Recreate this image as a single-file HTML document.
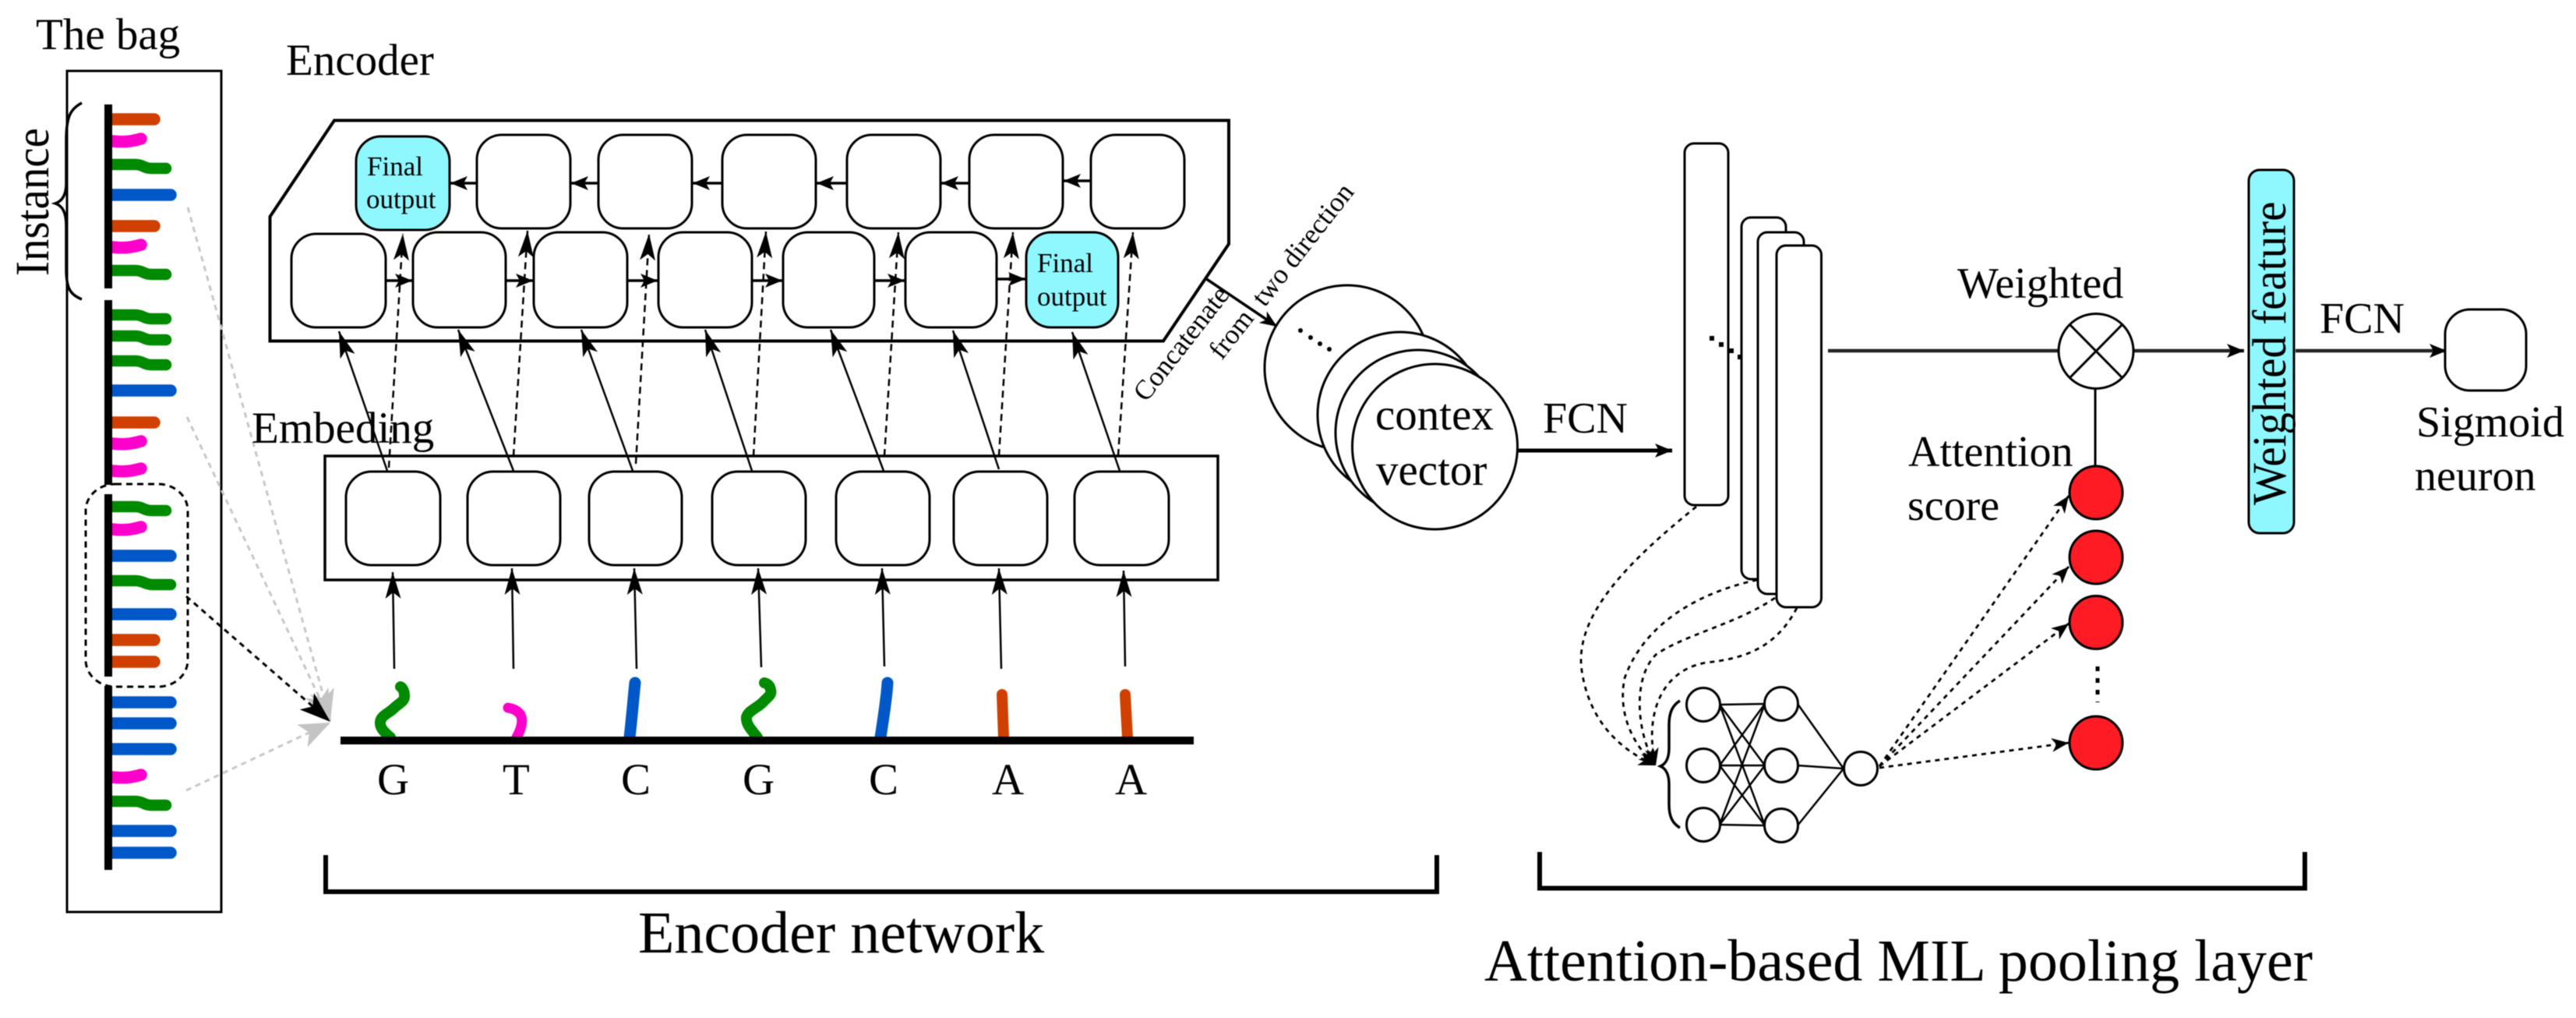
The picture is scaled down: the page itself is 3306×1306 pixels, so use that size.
<!DOCTYPE html>
<html><head><meta charset="utf-8"><style>
html,body{margin:0;padding:0;background:#fff}
svg{display:block;filter:blur(.6px)}
text{font-family:"Liberation Serif",serif;fill:#000}
</style></head><body>
<svg xmlns="http://www.w3.org/2000/svg" width="3306" height="1306" viewBox="0 0 3306 1306">
<defs>
<marker id="a" markerUnits="userSpaceOnUse" markerWidth="40" markerHeight="24" refX="34" refY="12" orient="auto"><path d="M34 12L0 2L8 12L0 22Z"/></marker>
<marker id="h" markerUnits="userSpaceOnUse" markerWidth="24" markerHeight="24" refX="22" refY="12" orient="auto"><path d="M22 12L0 3L5 12L0 21Z"/></marker>
<marker id="s" markerUnits="userSpaceOnUse" markerWidth="24" markerHeight="24" refX="22" refY="12" orient="auto"><path d="M22 12L0 3L6 12L0 21Z"/></marker>
<marker id="g" markerUnits="userSpaceOnUse" markerWidth="44" markerHeight="40" refX="40" refY="20" orient="auto"><path d="M40 20L0 4L10 20L0 36Z" fill="#c4c4c4"/></marker>
<marker id="k" markerUnits="userSpaceOnUse" markerWidth="44" markerHeight="40" refX="40" refY="20" orient="auto"><path d="M40 20L0 6L10 20L0 34Z"/></marker>
</defs>

<!-- bag -->
<rect x="86" y="91" width="198" height="1079" fill="none" stroke="#000" stroke-width="3"/>
<text x="46" y="63" font-size="57">The bag</text>
<text transform="translate(62,354) rotate(-90) scale(1,1.07)" font-size="57">Instance</text>
<path d="M105 132C90 140 85 150 85 180L85 235C85 250 80 258 71 261C80 264 85 272 85 290L85 345C85 370 90 378 105 384" fill="none" stroke="#000" stroke-width="3.5"/>

<g fill="none" stroke-linecap="round" stroke-width="15.500">
<g stroke="#d04000">
<path d="M144 153H198M144 290H198M144 542H198M144 821H198M144 849H198"/>
</g>
<g stroke="#ff00cc">
<path d="M144 181C160 183 170 181 181 178M144 317C160 319 170 317 181 314M144 569C160 571 170 569 181 566M144 604C160 606 170 604 181 601M144 679C160 681 170 679 181 676M144 997C160 999 170 997 181 994"/>
</g>
<g stroke="#008a00" stroke-width="14.500">
<path d="M144 211H174C184 211 184 216 194 216H213M144 347H174C184 347 184 352 194 352H213M144 404H174C184 404 184 409 194 409H213M144 431H174C184 431 184 436 194 436H213M144 463H174C184 463 184 468 194 468H213M144 650H174C184 650 184 655 194 655H213M144 745H174C184 745 186 750 196 750H219M144 1028H174C184 1028 184 1033 194 1033H213"/>
</g>
<g stroke="#0058c8">
<path d="M144 250H219M144 501H219M144 713H219M144 788H219M144 901H219M144 928H219M144 961H219M144 1066H219M144 1094H219"/>
</g>
</g>
<g fill="#000">
<rect x="134" y="134" width="10" height="236"/>
<rect x="134" y="385" width="10" height="237"/>
<rect x="134" y="634" width="10" height="234"/>
<rect x="134" y="880" width="10" height="236"/>
</g>
<rect x="110" y="621" width="131" height="260" rx="38" ry="34" fill="none" stroke="#000" stroke-width="3" stroke-dasharray="8 6"/>

<!-- gray + black links -->
<g fill="none" stroke-width="3" stroke-dasharray="7 6">
<line x1="241" y1="266" x2="424" y2="925" stroke="#c8c8c8" marker-end="url(#g)"/>
<line x1="240" y1="535" x2="424" y2="925" stroke="#c8c8c8" marker-end="url(#g)"/>
<line x1="239" y1="1014" x2="424" y2="927" stroke="#c8c8c8" marker-end="url(#g)"/>
<line x1="239" y1="765" x2="424" y2="926" stroke="#000" marker-end="url(#k)"/>
</g>

<!-- Encoder -->
<text x="367" y="96" font-size="57">Encoder</text>
<text x="323" y="568" font-size="57">Embeding</text>
<polygon points="429,154.500 1577,154.500 1577,313 1493,437.500 346.500,437.500 346.500,278" fill="none" stroke="#000" stroke-width="4"/>

<g fill="#fff" stroke="#000" stroke-width="3">
<rect x="457" y="175" width="120" height="120" rx="32" fill="#8ff8ff"/>
<rect x="612" y="173" width="120" height="120" rx="32"/>
<rect x="768" y="173" width="120" height="120" rx="32"/>
<rect x="927" y="173" width="120" height="120" rx="32"/>
<rect x="1087" y="173" width="120" height="120" rx="32"/>
<rect x="1244" y="173" width="120" height="120" rx="32"/>
<rect x="1400" y="173" width="120" height="120" rx="32"/>
<rect x="374" y="300" width="121" height="120" rx="32"/>
<rect x="530" y="298" width="119" height="122" rx="32"/>
<rect x="685" y="298" width="120" height="122" rx="32"/>
<rect x="845" y="298" width="120" height="122" rx="32"/>
<rect x="1005" y="298" width="117" height="122" rx="32"/>
<rect x="1162" y="298" width="117" height="122" rx="32"/>
<rect x="1317" y="298" width="118" height="122" rx="32" fill="#8ff8ff"/>
</g>
<text x="471" y="225" font-size="35">Final</text>
<text x="470" y="267" font-size="35">output</text>
<text x="1331" y="349" font-size="35">Final</text>
<text x="1331" y="392" font-size="35">output</text>

<g fill="none" stroke="#000" stroke-width="3.500">
<line x1="612" y1="235" x2="578" y2="235" marker-end="url(#h)"/>
<line x1="768" y1="235" x2="733" y2="235" marker-end="url(#h)"/>
<line x1="927" y1="235" x2="889" y2="235" marker-end="url(#h)"/>
<line x1="1087" y1="235" x2="1048" y2="235" marker-end="url(#h)"/>
<line x1="1244" y1="235" x2="1208" y2="235" marker-end="url(#h)"/>
<line x1="1400" y1="232" x2="1365" y2="232" marker-end="url(#h)"/>
<line x1="495" y1="360" x2="529" y2="360" marker-end="url(#h)"/>
<line x1="649" y1="360" x2="684" y2="360" marker-end="url(#h)"/>
<line x1="805" y1="360" x2="844" y2="360" marker-end="url(#h)"/>
<line x1="965" y1="360" x2="1004" y2="360" marker-end="url(#h)"/>
<line x1="1122" y1="360" x2="1161" y2="360" marker-end="url(#h)"/>
<line x1="1279" y1="358" x2="1316" y2="358" marker-end="url(#h)"/>
</g>

<!-- Embedding -->
<rect x="417" y="585" width="1146" height="159" fill="none" stroke="#000" stroke-width="3.500"/>
<g fill="#fff" stroke="#000" stroke-width="3">
<rect x="444" y="605" width="121" height="120" rx="33"/>
<rect x="600" y="605" width="119" height="120" rx="33"/>
<rect x="756" y="605" width="119" height="120" rx="33"/>
<rect x="914" y="605" width="120" height="120" rx="33"/>
<rect x="1073" y="605" width="120" height="120" rx="33"/>
<rect x="1224" y="605" width="120" height="120" rx="33"/>
<rect x="1379" y="605" width="121" height="120" rx="33"/>
</g>

<g fill="none" stroke="#000" stroke-width="2.500">
<line x1="497" y1="604" x2="435" y2="425" marker-end="url(#a)"/>
<line x1="659" y1="604" x2="588" y2="423" marker-end="url(#a)"/>
<line x1="812" y1="604" x2="746" y2="423" marker-end="url(#a)"/>
<line x1="965" y1="604" x2="905" y2="423" marker-end="url(#a)"/>
<line x1="1134" y1="604" x2="1066" y2="423" marker-end="url(#a)"/>
<line x1="1282" y1="602" x2="1223" y2="424" marker-end="url(#a)"/>
<line x1="1437" y1="604" x2="1376" y2="426" marker-end="url(#a)"/>
<g stroke-dasharray="9 6">
<line x1="499" y1="600" x2="517" y2="300" marker-end="url(#a)"/>
<line x1="659" y1="585" x2="677" y2="296" marker-end="url(#a)"/>
<line x1="816" y1="595" x2="833" y2="300" marker-end="url(#a)"/>
<line x1="967" y1="585" x2="983" y2="297" marker-end="url(#a)"/>
<line x1="1135" y1="585" x2="1153" y2="298" marker-end="url(#a)"/>
<line x1="1282" y1="585" x2="1300" y2="298" marker-end="url(#a)"/>
<line x1="1435" y1="585" x2="1454" y2="298" marker-end="url(#a)"/>
</g>
<line x1="506" y1="858" x2="504" y2="734" marker-end="url(#a)"/>
<line x1="659" y1="858" x2="657" y2="729" marker-end="url(#a)"/>
<line x1="817" y1="858" x2="814" y2="729" marker-end="url(#a)"/>
<line x1="977" y1="856" x2="973" y2="729" marker-end="url(#a)"/>
<line x1="1135" y1="855" x2="1132" y2="729" marker-end="url(#a)"/>
<line x1="1285" y1="858" x2="1282" y2="729" marker-end="url(#a)"/>
<line x1="1444" y1="855" x2="1442" y2="732" marker-end="url(#a)"/>
</g>

<!-- sequence -->
<g fill="none" stroke-linecap="round">
<path d="M501 946C494 940 487 934 488 926C489 918 499 915 505 909C512 902 520 900 519 892C519 886 516 882 514 881" stroke="#008a00" stroke-width="14"/>
<path d="M663 946C669 935 672 925 668 917C664 911 658 909 652 908" stroke="#ff00cc" stroke-width="13"/>
<path d="M808 946C811 920 813 895 815 876" stroke="#0058c8" stroke-width="15"/>
<path d="M972 946C966 938 957 930 958 920C960 912 972 908 979 901C985 894 991 892 989 885C988 879 985 877 981 876" stroke="#008a00" stroke-width="14"/>
<path d="M1130 946C1134 920 1138 895 1139 876" stroke="#0058c8" stroke-width="15"/>
<path d="M1288 946L1286 891" stroke="#d04000" stroke-width="14"/>
<path d="M1447 946L1444 891" stroke="#d04000" stroke-width="14"/>
</g>
<rect x="437" y="945" width="1095" height="10" fill="#000"/>
<g font-size="57">
<text x="484" y="1019">G</text>
<text x="645" y="1019">T</text>
<text x="797" y="1019">C</text>
<text x="953" y="1019">G</text>
<text x="1115" y="1019">C</text>
<text x="1273" y="1019">A</text>
<text x="1431" y="1019">A</text>
</g>

<!-- brackets -->
<path d="M418 1097V1144H1844V1097" fill="none" stroke="#000" stroke-width="6"/>
<path d="M1976 1093V1139.500H2958V1093" fill="none" stroke="#000" stroke-width="6"/>
<text x="819" y="1222" font-size="76">Encoder network</text>
<text x="1905" y="1258" font-size="76">Attention-based MIL pooling layer</text>

<!-- context -->
<line x1="1547" y1="357" x2="1639" y2="419" stroke="#000" stroke-width="3.500" marker-end="url(#s)"/>
<g fill="#fff" stroke="#000" stroke-width="3">
<circle cx="1729" cy="472" r="106"/>
<circle cx="1797" cy="532" r="106"/>
<circle cx="1820" cy="555" r="106"/>
<circle cx="1841.500" cy="573" r="106"/>
</g>
<g fill="#000">
<circle cx="1669" cy="424" r="3"/><circle cx="1682" cy="433" r="3"/><circle cx="1694" cy="441" r="3"/><circle cx="1706" cy="448" r="3"/>
</g>
<text x="1765" y="551" font-size="57">contex</text>
<text x="1766" y="622" font-size="57">vector</text>
<text transform="translate(1471,517) rotate(-52)" font-size="35.500">Concatenate</text>
<text transform="translate(1568,463) rotate(-52)" font-size="35.500">from</text>
<text transform="translate(1623,395) rotate(-52)" font-size="35.500">two direction</text>

<text x="1980" y="555" font-size="56">FCN</text>
<line x1="1947" y1="578" x2="2146" y2="578" stroke="#000" stroke-width="5" marker-end="url(#h)"/>

<!-- feature maps -->
<g fill="#fff" stroke="#000" stroke-width="3">
<rect x="2162" y="184" width="56" height="464" rx="12"/>
<rect x="2235" y="279" width="57" height="464" rx="12"/>
<rect x="2256" y="298" width="59" height="464" rx="12"/>
<rect x="2280" y="315" width="57.500" height="464" rx="12"/>
</g>
<g fill="#000">
<rect x="2194" y="431" width="6" height="6"/><rect x="2206" y="439" width="6" height="6"/><rect x="2219" y="447" width="6" height="6"/><rect x="2230" y="455" width="5" height="6"/>
</g>

<!-- weighted -->
<line x1="2346" y1="450" x2="2643" y2="450" stroke="#222" stroke-width="4.500"/>
<line x1="2737" y1="450" x2="2880" y2="450" stroke="#222" stroke-width="4.500" marker-end="url(#h)"/>
<circle cx="2690" cy="450.500" r="48" fill="#fff" stroke="#000" stroke-width="3"/>
<path d="M2656 416L2724 485M2724 416L2656 485" fill="none" stroke="#000" stroke-width="3"/>
<line x1="2689" y1="499" x2="2689" y2="598" stroke="#000" stroke-width="3"/>
<text x="2512" y="382" font-size="56">Weighted</text>
<text x="2449" y="598" font-size="56">Attention</text>
<text x="2448" y="667" font-size="56">score</text>

<g fill="#ff1b24" stroke="#000" stroke-width="3">
<circle cx="2690" cy="632" r="34"/>
<circle cx="2690" cy="715" r="34"/>
<circle cx="2690" cy="798.500" r="34"/>
<circle cx="2690" cy="953" r="34"/>
</g>
<path d="M2692 855V901" stroke="#000" stroke-width="5" stroke-dasharray="6 9" fill="none"/>

<!-- cyan bar -->
<rect x="2886" y="218" width="58" height="466" rx="14" fill="#8ff8ff" stroke="#000" stroke-width="3"/>
<text transform="translate(2933,648) rotate(-90) scale(1,1.07)" font-size="57">Weighted feature</text>
<text x="2977" y="427" font-size="56">FCN</text>
<line x1="2946" y1="450" x2="3140" y2="450" stroke="#222" stroke-width="4.500" marker-end="url(#h)"/>
<rect x="3138" y="397" width="104" height="104" rx="32" fill="#fff" stroke="#000" stroke-width="3"/>
<text x="3101" y="560" font-size="56">Sigmoid</text>
<text x="3099" y="629" font-size="56">neuron</text>

<!-- small NN -->
<g stroke="#000" stroke-width="2.500" fill="none">
<path d="M2207 904L2265 903M2207 904L2265 982M2207 904L2265 1059M2207 982L2265 903M2207 982L2265 982M2207 982L2265 1059M2207 1058L2265 903M2207 1058L2265 982M2207 1058L2265 1059"/>
<path d="M2307 903L2366 986M2307 982L2366 986M2307 1059L2366 986"/>
</g>
<g fill="#fff" stroke="#000" stroke-width="3">
<circle cx="2186" cy="904" r="21.500"/>
<circle cx="2186" cy="982" r="21.500"/>
<circle cx="2186" cy="1058" r="21.500"/>
<circle cx="2286" cy="903" r="21.500"/>
<circle cx="2286" cy="982" r="21.500"/>
<circle cx="2286" cy="1059" r="21.500"/>
<circle cx="2388" cy="986" r="21.500"/>
</g>
<path d="M2156 899C2146 905 2142 915 2142 930L2142 960C2142 972 2138 980 2131 983C2138 986 2142 994 2142 1006L2142 1032C2142 1047 2146 1056 2156 1062" fill="none" stroke="#000" stroke-width="3.500"/>

<g fill="none" stroke="#000" stroke-width="2.800" stroke-dasharray="6 6">
<path d="M2177 650C2090 720 2020 790 2030 860C2040 930 2085 965 2125 982" marker-end="url(#s)"/>
<path d="M2255 744C2180 760 2110 800 2085 870C2075 920 2100 960 2125 982" marker-end="url(#s)"/>
<path d="M2278 767C2230 800 2160 815 2125 840C2095 870 2100 940 2125 982" marker-end="url(#s)"/>
<path d="M2306 780C2280 830 2240 845 2190 850C2130 860 2110 920 2125 982" marker-end="url(#s)"/>
<line x1="2412" y1="983" x2="2655" y2="636" marker-end="url(#s)"/>
<line x1="2412" y1="983" x2="2655" y2="727" marker-end="url(#s)"/>
<line x1="2412" y1="983" x2="2655" y2="800" marker-end="url(#s)"/>
<line x1="2412" y1="985" x2="2655" y2="953" marker-end="url(#s)"/>
</g>
</svg>
</body></html>
